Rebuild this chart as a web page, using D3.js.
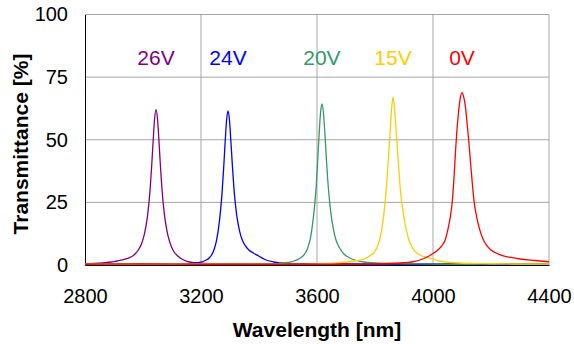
<!DOCTYPE html>
<html>
<head>
<meta charset="utf-8">
<script src="https://cdn.jsdelivr.net/npm/d3@7"></script>
<style>
  html, body { margin: 0; padding: 0; background: #fff; }
  svg { display: block; font-family: "Liberation Sans", Arial, sans-serif; }
</style>
</head>
<body>
<div id="chart"></div>
<script>
// series labels and colours
const seriesNames = ["26V", "24V", "20V", "15V", "0V"];
const seriesColors = ["#800080", "#0000ff", "#339966", "#ffcc00", "#ff0000"];

// 26V
const wl26 = [2800, 2830, 2860, 2890, 2910, 2930, 2945, 2960, 2975, 2985, 2995, 3005, 3015, 3020, 3025, 3030, 3035, 3040, 3045, 3050, 3055, 3060, 3065, 3070, 3075, 3085, 3095, 3105, 3120, 3140, 3160, 3190, 3230, 3300, 3400, 3500, 3600, 3700, 3800, 3900, 4000, 4100, 4200, 4300, 4400];
const t26 = [0.5, 0.6, 0.8, 1.2, 1.6, 2.0, 2.6, 3.3, 4.7, 6.2, 8.5, 12.4, 19.1, 24.2, 31.0, 39.7, 49.6, 58.4, 62.0, 58.4, 49.6, 39.7, 31.0, 24.2, 19.1, 12.2, 8.2, 5.6, 3.6, 2.0, 1.2, 0.8, 0.5, 0.4, 0.3, 0.5, 0.3, 0.4, 0.2, 0.4, 0.3, 0.5, 0.3, 0.4, 0.3];

// 24V
const wl24 = [2800, 2900, 3000, 3100, 3150, 3180, 3200, 3215, 3230, 3243, 3253, 3263, 3268, 3273, 3278, 3283, 3288, 3293, 3298, 3303, 3308, 3313, 3318, 3323, 3333, 3343, 3353, 3365, 3380, 3400, 3420, 3450, 3500, 3600, 3700, 3800, 3900, 4000, 4100, 4200, 4300, 4400];
const t24 = [0.3, 0.4, 0.3, 0.3, 0.5, 0.8, 1.1, 1.8, 3.0, 5.5, 9.5, 17.0, 22.5, 29.5, 38.5, 48.5, 57.5, 61.5, 58.0, 49.5, 40.0, 31.5, 25.0, 20.0, 13.5, 9.8, 7.6, 6.0, 4.8, 3.5, 2.2, 1.2, 0.6, 0.4, 0.3, 0.4, 0.3, 0.3, 0.4, 0.3, 0.3, 0.4];

// 20V
const wl20 = [2800, 3000, 3200, 3350, 3420, 3470, 3500, 3520, 3540, 3555, 3567, 3577, 3587, 3592, 3597, 3602, 3607, 3612, 3617, 3622, 3627, 3632, 3637, 3642, 3647, 3657, 3667, 3677, 3692, 3710, 3730, 3760, 3800, 3900, 4000, 4100, 4200, 4300, 4400];
const t20 = [0.3, 0.4, 0.3, 0.3, 0.4, 0.6, 1.0, 1.6, 2.6, 4.0, 6.5, 10.5, 18.5, 24.0, 31.0, 41.0, 51.5, 60.5, 64.3, 61.0, 53.0, 43.0, 34.0, 27.0, 21.5, 14.0, 9.5, 7.0, 4.5, 3.0, 2.0, 1.2, 0.8, 0.5, 0.4, 0.3, 0.4, 0.3, 0.3];

// 15V
const wl15 = [2800, 3000, 3200, 3400, 3600, 3700, 3740, 3760, 3780, 3794, 3807, 3817, 3827, 3834, 3840, 3846, 3852, 3857, 3862, 3867, 3872, 3878, 3884, 3890, 3897, 3907, 3917, 3930, 3944, 3964, 3983, 4017, 4052, 4102, 4200, 4300, 4400];
const t15 = [0.3, 0.3, 0.4, 0.3, 0.4, 1.2, 1.8, 2.3, 3.5, 4.7, 7.0, 10.5, 17.0, 24.0, 32.0, 42.0, 53.0, 62.0, 67.0, 63.0, 55.0, 45.0, 35.0, 27.0, 21.0, 14.5, 10.0, 6.7, 4.8, 3.5, 2.9, 1.7, 1.1, 0.7, 0.5, 0.4, 0.4];

// 0V
const wl0 = [2800, 3000, 3200, 3400, 3600, 3800, 3900, 3931, 3960, 3980, 4000, 4015, 4030, 4042, 4052, 4060, 4067, 4073, 4078, 4082, 4088, 4094, 4100, 4106, 4112, 4118, 4123, 4130, 4136, 4142, 4150, 4160, 4172, 4185, 4200, 4219, 4240, 4270, 4300, 4350, 4400];
const t0 = [0.3, 0.4, 0.3, 0.3, 0.3, 0.4, 0.9, 1.3, 2.2, 3.2, 4.6, 5.8, 7.6, 10.0, 14.5, 19.5, 26.0, 36.0, 46.0, 53.0, 61.0, 66.5, 68.8, 67.0, 63.0, 56.0, 50.0, 40.0, 32.0, 25.0, 19.5, 14.5, 10.5, 7.8, 6.0, 4.7, 3.7, 3.0, 2.4, 1.8, 1.3];

const xTicks = [2800, 3200, 3600, 4000, 4400];
const yTicks = [0, 25, 50, 75, 100];

const wavelengths = [wl26, wl24, wl20, wl15, wl0];
const values = [t26, t24, t20, t15, t0];

const series = seriesNames.map((name, i) => ({
  name,
  color: seriesColors[i],
  points: wavelengths[i].map((w, j) => ({ x: w, y: values[i][j] })),
}));

const width = 574;
const height = 344;
const margin = { top: 14.5, right: 25, bottom: 79, left: 85 };

const x = d3.scaleLinear().domain([2800, 4400]).range([margin.left, width - margin.right]);
const y = d3.scaleLinear().domain([0, 100]).range([height - margin.bottom, margin.top]);

const svg = d3.select("#chart")
  .append("svg")
  .attr("width", width)
  .attr("height", height);

// grid
svg.append("g")
  .attr("stroke", "#a6a6a6")
  .attr("stroke-width", 1)
  .call((g) => g.selectAll("line.h")
    .data(yTicks.filter((d) => d > 0))
    .join("line")
    .attr("class", "h")
    .attr("x1", margin.left)
    .attr("x2", width - margin.right)
    .attr("y1", (d) => y(d))
    .attr("y2", (d) => y(d)))
  .call((g) => g.selectAll("line.v")
    .data(xTicks.filter((d) => d > 2800))
    .join("line")
    .attr("class", "v")
    .attr("x1", (d) => x(d))
    .attr("x2", (d) => x(d))
    .attr("y1", margin.top)
    .attr("y2", height - margin.bottom));

// axes
const xAxis = svg.append("g")
  .attr("transform", `translate(0,${height - margin.bottom})`)
  .call(d3.axisBottom(x).tickValues(xTicks).tickSize(0).tickPadding(24).tickFormat(d3.format("d")));
xAxis.select(".domain").attr("stroke", "#000");
xAxis.selectAll("text").attr("font-size", 20).attr("fill", "#000").attr("font-family", "Liberation Sans, Arial, sans-serif");

const yAxis = svg.append("g")
  .attr("transform", `translate(${margin.left},0)`)
  .call(d3.axisLeft(y).tickValues(yTicks).tickSize(0).tickPadding(17));
yAxis.select(".domain").attr("stroke", "#000");
yAxis.selectAll("text").attr("font-size", 20).attr("fill", "#000").attr("font-family", "Liberation Sans, Arial, sans-serif");

// curves
const line = d3.line()
  .x((d) => x(d.x))
  .y((d) => y(d.y))
  .curve(d3.curveMonotoneX);

svg.append("g")
  .attr("fill", "none")
  .attr("stroke-width", 1.3)
  .selectAll("path")
  .data(series)
  .join("path")
  .attr("stroke", (d) => d.color)
  .attr("d", (d) => line(d.points));

// labels above each peak
svg.append("g")
  .attr("text-anchor", "middle")
  .attr("font-size", 21)
  .selectAll("text")
  .data(series)
  .join("text")
  .attr("fill", (d) => d.color)
  .attr("x", (d) => x(d3.greatest(d.points, (p) => p.y).x))
  .attr("y", y(80))
  .text((d) => d.name);

// axis titles
svg.append("text")
  .attr("x", (margin.left + width - margin.right) / 2)
  .attr("y", 337)
  .attr("text-anchor", "middle")
  .attr("font-size", 21)
  .attr("font-weight", "bold")
  .text("Wavelength [nm]");

svg.append("text")
  .attr("transform", `translate(21,144) rotate(-90)`)
  .attr("dy", "0.35em")
  .attr("text-anchor", "middle")
  .attr("font-size", 21)
  .attr("font-weight", "bold")
  .text("Transmittance [%]");
</script>
</body>
</html>
